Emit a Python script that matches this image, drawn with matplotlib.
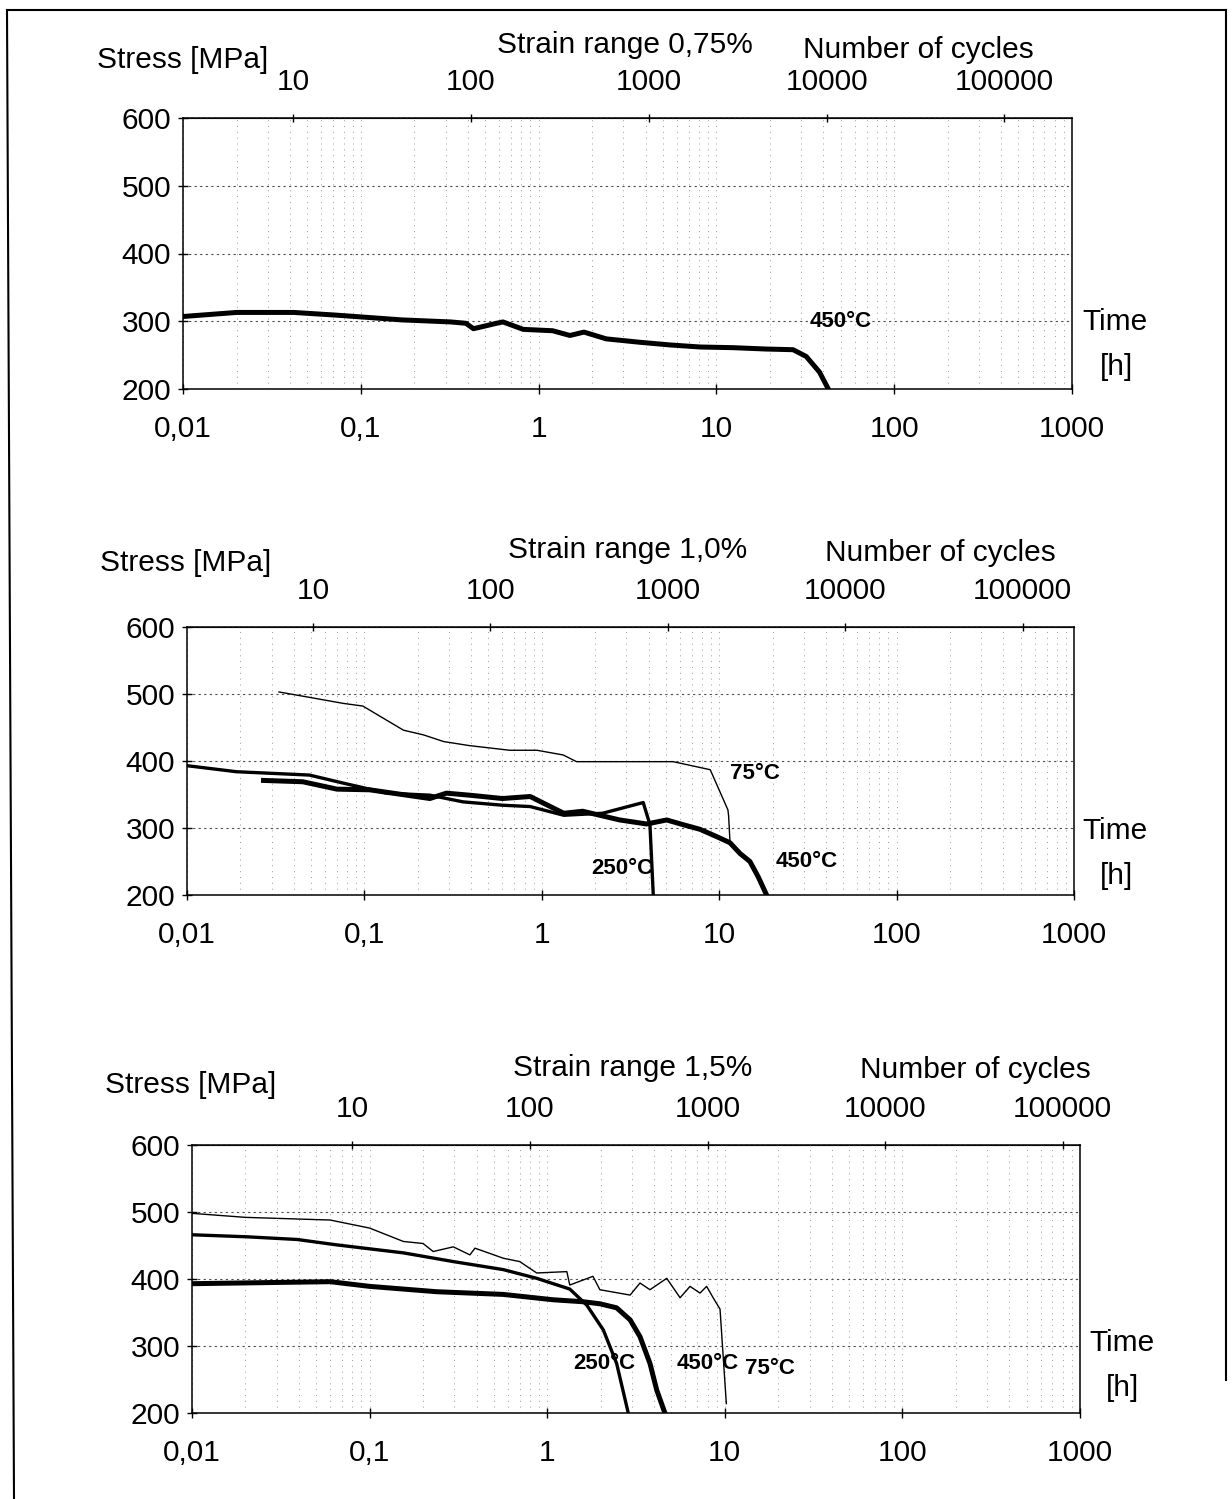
import matplotlib
matplotlib.use('Agg')
import matplotlib.pyplot as plt
from matplotlib.lines import Line2D
from matplotlib.ticker import LogLocator, NullFormatter, NullLocator
import numpy as np

plt.rcParams['font.family'] = ['Liberation Sans', 'DejaVu Sans']

# --- data: time [h] vs stress [MPa] ---
time_ticks = [0.01, 0.1, 1, 10, 100, 1000]
time_labels = ['0,01', '0,1', '1', '10', '100', '1000']
cycle_ticks = [10, 100, 1000, 10000, 100000]
cycle_labels = ['10', '100', '1000', '10000', '100000']
stress_ticks = [200, 300, 400, 500, 600]

# strain range 0,75 %
t1_450 = [0.01, 0.02, 0.042, 0.073, 0.17, 0.32, 0.39, 0.43, 0.50, 0.58, 0.63, 0.82,
          1.2, 1.5, 1.8, 2.4, 3.7, 5.5, 8.1, 12.4, 19, 27, 32, 38, 42.6]
s1_450 = [307, 313, 313, 309, 302, 299, 297, 289, 293, 297, 299, 288,
          286, 279, 284, 274, 269, 265, 262, 261, 259, 258, 248, 225, 200]

# strain range 1,0 %
t2_75 = [0.033, 0.049, 0.076, 0.098, 0.166, 0.215, 0.28, 0.39, 0.66, 0.94, 1.32, 1.57,
         5.5, 8.9, 10.1, 11.2, 11.3, 11.5]
s2_75 = [503, 495, 486, 482, 446, 439, 429, 423, 416, 416, 409, 399,
         399, 387, 354, 327, 318, 280]
t2_250 = [0.01, 0.019, 0.049, 0.076, 0.134, 0.234, 0.36, 0.6, 0.86, 1.33, 2.2, 3.73, 4.07, 4.25]
s2_250 = [393, 384, 379, 367, 352, 349, 339, 334, 332, 319, 322, 338, 305, 200]
t2_450 = [0.027, 0.045, 0.07, 0.107, 0.234, 0.29, 0.39, 0.6, 0.86, 1.33, 1.7, 2.75,
          3.9, 5.06, 6.25, 7.8, 9.7, 11.5, 13.1, 14.9, 16.6, 18.5]
s2_450 = [371, 369, 358, 357, 344, 352, 349, 344, 347, 322, 325, 312,
          306, 312, 305, 298, 287, 278, 262, 250, 227, 200]

# strain range 1,5 %
t3_75 = [0.01, 0.02, 0.06, 0.10, 0.155, 0.20, 0.228, 0.296, 0.367, 0.392, 0.566, 0.70,
         0.873, 1.29, 1.34, 1.81, 1.98, 2.93, 3.33, 3.79, 4.71, 5.6, 6.37, 7.25, 7.9,
         8.6, 9.4, 10.2]
s3_75 = [498, 492, 488, 476, 456, 453, 441, 448, 436, 446, 431, 426,
         409, 411, 391, 404, 384, 376, 394, 384, 401, 372, 389, 379, 389,
         372, 355, 214]
t3_250 = [0.01, 0.0203, 0.039, 0.065, 0.155, 0.296, 0.566, 0.873, 1.34, 1.67, 2.07, 2.46, 2.86]
s3_250 = [466, 463, 459, 451, 439, 426, 414, 401, 385, 361, 324, 274, 200]
t3_450 = [0.01, 0.06, 0.10, 0.239, 0.566, 1.08, 1.6, 1.98, 2.46, 2.93, 3.33, 3.79, 4.14, 4.6]
s3_450 = [393, 396, 389, 381, 377, 369, 366, 363, 357, 339, 314, 274, 234, 200]

W, H = 1232, 1499
FS = 21.5
fig = plt.figure(figsize=(W / 100, H / 100), dpi=100)


def fx(x):
    return x / W


def fy(y):
    return 1 - y / H


def make_panel(box, k, title, title_x, title_y, cyc_x, cyc_y, stress_x, stress_y, time_x, time_y):
    left, right, top, bottom = box
    ax = fig.add_axes([fx(left), fy(bottom), (right - left) / W, (bottom - top) / H])
    ax.set_xscale('log')
    ax.set_xlim(0.01, 1000)
    ax.set_ylim(200, 600)
    ax.set_yticks(stress_ticks)
    ax.set_xticks(time_ticks)
    ax.set_xticklabels(time_labels)
    ax.xaxis.set_minor_locator(LogLocator(base=10, subs=np.arange(2, 10)))
    ax.xaxis.set_minor_formatter(NullFormatter())
    ax.tick_params(axis='both', which='major', direction='inout', length=7, width=1,
                   labelsize=FS, colors='black')
    ax.tick_params(axis='x', which='major', pad=15)
    ax.tick_params(axis='y', which='major', pad=5)
    ax.tick_params(axis='x', which='minor', length=0)
    ax.grid(axis='y', which='major', ls=(0, (2, 3)), color='0.3', lw=0.8)
    ax.grid(axis='x', which='both', ls=(0, (1, 5)), color='0.6', lw=0.7)
    for sp in ax.spines.values():
        sp.set_linewidth(1.1)
        sp.set_color('black')

    sec = ax.secondary_xaxis('top', functions=(lambda t: t * k, lambda n: n / k))
    sec.set_xticks(cycle_ticks)
    sec.set_xticklabels(cycle_labels)
    sec.xaxis.set_minor_locator(NullLocator())
    sec.tick_params(direction='inout', length=6, width=1, labelsize=FS, pad=12.5)

    fig.text(fx(title_x), fy(title_y), title, ha='center', va='center', fontsize=FS)
    fig.text(fx(cyc_x), fy(cyc_y), 'Number of cycles', ha='center', va='center', fontsize=FS)
    fig.text(fx(stress_x), fy(stress_y), 'Stress [MPa]', ha='center', va='center', fontsize=FS)
    fig.text(fx(time_x), fy(time_y), 'Time', ha='center', va='center', fontsize=FS)
    fig.text(fx(time_x + 1), fy(time_y + 45), '[h]', ha='center', va='center', fontsize=FS)
    return ax


lbl = dict(fontsize=16, fontweight='bold', ha='center', va='center')

ax1 = make_panel((183, 1072, 118, 389), 240, 'Strain range 0,75%', 625, 45, 918, 50,
                 183, 60, 1115, 322)
ax1.plot(t1_450, s1_450, color='black', lw=3.6, solid_joinstyle='round')
ax1.text(50, 300, '450°C', **lbl)

ax2 = make_panel((187, 1074, 627, 895), 195, 'Strain range 1,0%', 628, 550, 940, 553,
                 186, 563, 1115, 831)
ax2.plot(t2_75, s2_75, color='black', lw=1.0)
ax2.plot(t2_250, s2_250, color='black', lw=2.4, solid_joinstyle='round')
ax2.plot(t2_450, s2_450, color='black', lw=3.6, solid_joinstyle='round')
ax2.text(16, 381, '75°C', **lbl)
ax2.text(2.85, 239, '250°C', **lbl)
ax2.text(31, 250, '450°C', **lbl)

ax3 = make_panel((192, 1080, 1145, 1413), 125, 'Strain range 1,5%', 633, 1068, 975, 1070,
                 191, 1085, 1122, 1343)
ax3.plot(t3_75, s3_75, color='black', lw=1.0)
ax3.plot(t3_250, s3_250, color='black', lw=2.4, solid_joinstyle='round')
ax3.plot(t3_450, s3_450, color='black', lw=3.6, solid_joinstyle='round')
ax3.text(2.1, 274, '250°C', **lbl)
ax3.text(8.0, 274, '450°C', **lbl)
ax3.text(18, 266, '75°C', **lbl)

# frame around the whole scanned page
fig.add_artist(Line2D([fx(7), fx(1226)], [fy(10), fy(10)], color='black', lw=1.5))
fig.add_artist(Line2D([fx(7), fx(14)], [fy(10), fy(1499)], color='black', lw=1.5))
fig.add_artist(Line2D([fx(1226), fx(1226)], [fy(10), fy(1380)], color='black', lw=1.5))

fig.savefig('out.png', dpi=100, facecolor='white')
